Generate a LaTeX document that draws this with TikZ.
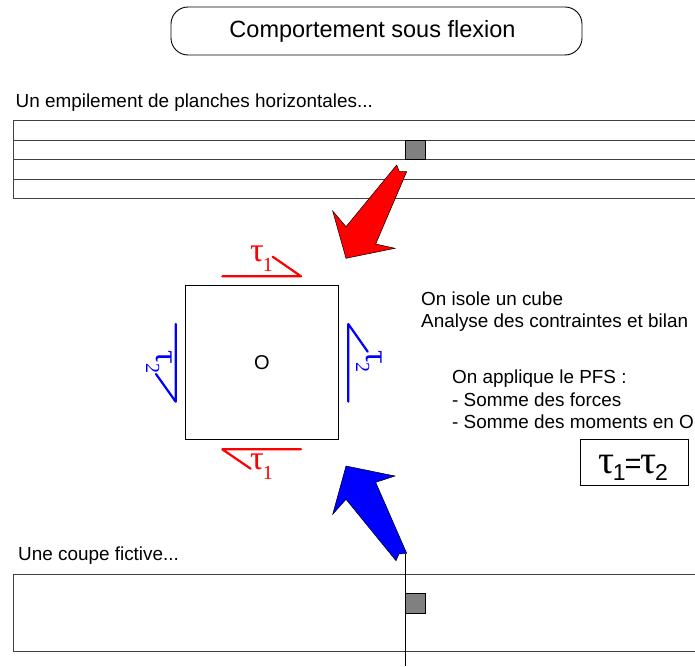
\documentclass[tikz,border=0pt]{standalone}
\usepackage{fontspec}
\setmainfont{Liberation Sans}
\newfontfamily\greekfont{Liberation Serif}
\usepackage{xcolor}
\usepackage{tikz}
\usetikzlibrary{
    positioning,
    calc
}

\newcommand{\tausub}[1]{{\greekfont\fontsize{34}{34}\selectfont τ\kern-1pt\raisebox{-10pt}{\fontsize{20}{20}\selectfont #1}}}
\newcommand{\taubig}[1]{{\greekfont\fontsize{40}{40}\selectfont τ}\kern-1.5pt\raisebox{-7pt}{\fontsize{23}{23}\selectfont #1}}

\begin{document}
\begin{tikzpicture}[
        x=1pt,
        y=-1pt,
        plank/.style={
            draw=black!75,
            line width=1pt
        },
        marker/.style={
            draw,
            fill=black!50,
            line width=1pt
        },
        textline/.style={
            anchor=base west,
            inner sep=0pt,
            font=\fontsize{18.9}{22}\selectfont
        },
        taulabel/.style={
            anchor=base west,
            inner sep=0pt
        },
        shearred/.style={
            draw=red,
            line width=2.2pt,
            line cap=round,
            line join=round
        },
        shearblue/.style={
            draw=blue,
            line width=2.2pt,
            line cap=round,
            line join=round
        },
        bigarrow/.style={
            draw=black,
            line width=0.5pt,
            line join=miter
        }
    ]

    \useasboundingbox (0,0) rectangle (695,666);

    % title
    \node[
        draw,
        rounded corners=17pt,
        line width=0.9pt,
        minimum width=411pt,
        minimum height=48pt,
        font=\fontsize{23.5}{28}\selectfont
    ] (title) at (376.5,31) {\kern-8pt\raisebox{-1.5pt}{Comportement sous flexion}};

    % planks
    \node[textline] (stacktext) at (15.5,107) {Un empilement de planches horizontales...};
    \foreach \ytop/\ybot in {120/140, 140/159, 159/179, 179/198} {
        \draw[plank] (13,\ytop) rectangle (700,\ybot);
    }
    \draw[marker] (405,140) rectangle (425,159);

    % red arrow
    \draw[bigarrow, fill=red]
        (396.7,165) -- (399.3,171.7) -- (406.7,171.7) -- (375.7,244)
        -- (395,248.3) -- (346,258.3) -- (332.7,211) -- (346,226.7) -- cycle;

    % cube
    \node[
        draw,
        line width=1pt,
        minimum size=153.4pt,
        inner sep=0pt,
        font=\fontsize{20}{22}\selectfont
    ] (cube) at (262,362.6) {\raisebox{1pt}{O}};

    \draw[shearred] (222.3,276.3) -- (301,276.3) -- (272.7,256.7);
    \draw[shearred] (301,449.3) -- (222.3,449.3) -- (250.7,468.7);
    \draw[shearblue] (175.7,324) -- (175.7,401.7) -- (156,374);
    \draw[shearblue] (348.3,401.7) -- (348.3,324) -- (367.7,351.7);

    \node[taulabel, text=red] (tautop) at (250,261.7) {\tausub{1}};
    \node[taulabel, text=red] (taubot) at (250,469) {\tausub{1}};
    \node[taulabel, text=blue, rotate=-90] (tauleft) at (156,350.5) {\tausub{2}};
    \node[taulabel, text=blue, rotate=-90] (tauright) at (366,350) {\tausub{2}};

    % text on the right
    \node[textline] (isole) at (421,305) {On isole un cube};
    \node[textline] (bilan) at (421,327) {Analyse des contraintes et bilan};
    \node[textline] (pfs) at (452,383) {On applique le PFS :};
    \node[textline] (forces) at (452,406.5) {- Somme des forces};
    \node[textline] (moments) at (452,428) {- Somme des moments en O};

    \node[
        draw,
        line width=1pt,
        minimum width=108pt,
        minimum height=46.4pt,
        inner sep=0pt
    ] (result) at (634,462.5) {};
    \node[taulabel] (resulttext) at (598,473.5) {\taubig{1}\kern-1pt{\fontsize{29}{29}\selectfont =}\kern-1pt\taubig{2}};

    % blue arrow
    \draw[bigarrow, fill=blue]
        (346,466) -- (395,476) -- (375.7,482.3) -- (406.7,553.3)
        -- (399,554) -- (396,560.7) -- (346,499.3) -- (332.7,514.3) -- cycle;

    % fictive cut
    \node[textline] (cuttext) at (18,560) {Une coupe fictive...};
    \draw[plank] (13,574) rectangle (700,651);
    \draw[marker] (405,593) rectangle (425,613);
    \coordinate (cuttop) at (405.5,554);
    \coordinate (cutbot) at (405.5,666);
    \draw[line width=1pt] (cuttop) -- (cutbot);

\end{tikzpicture}
\end{document}
